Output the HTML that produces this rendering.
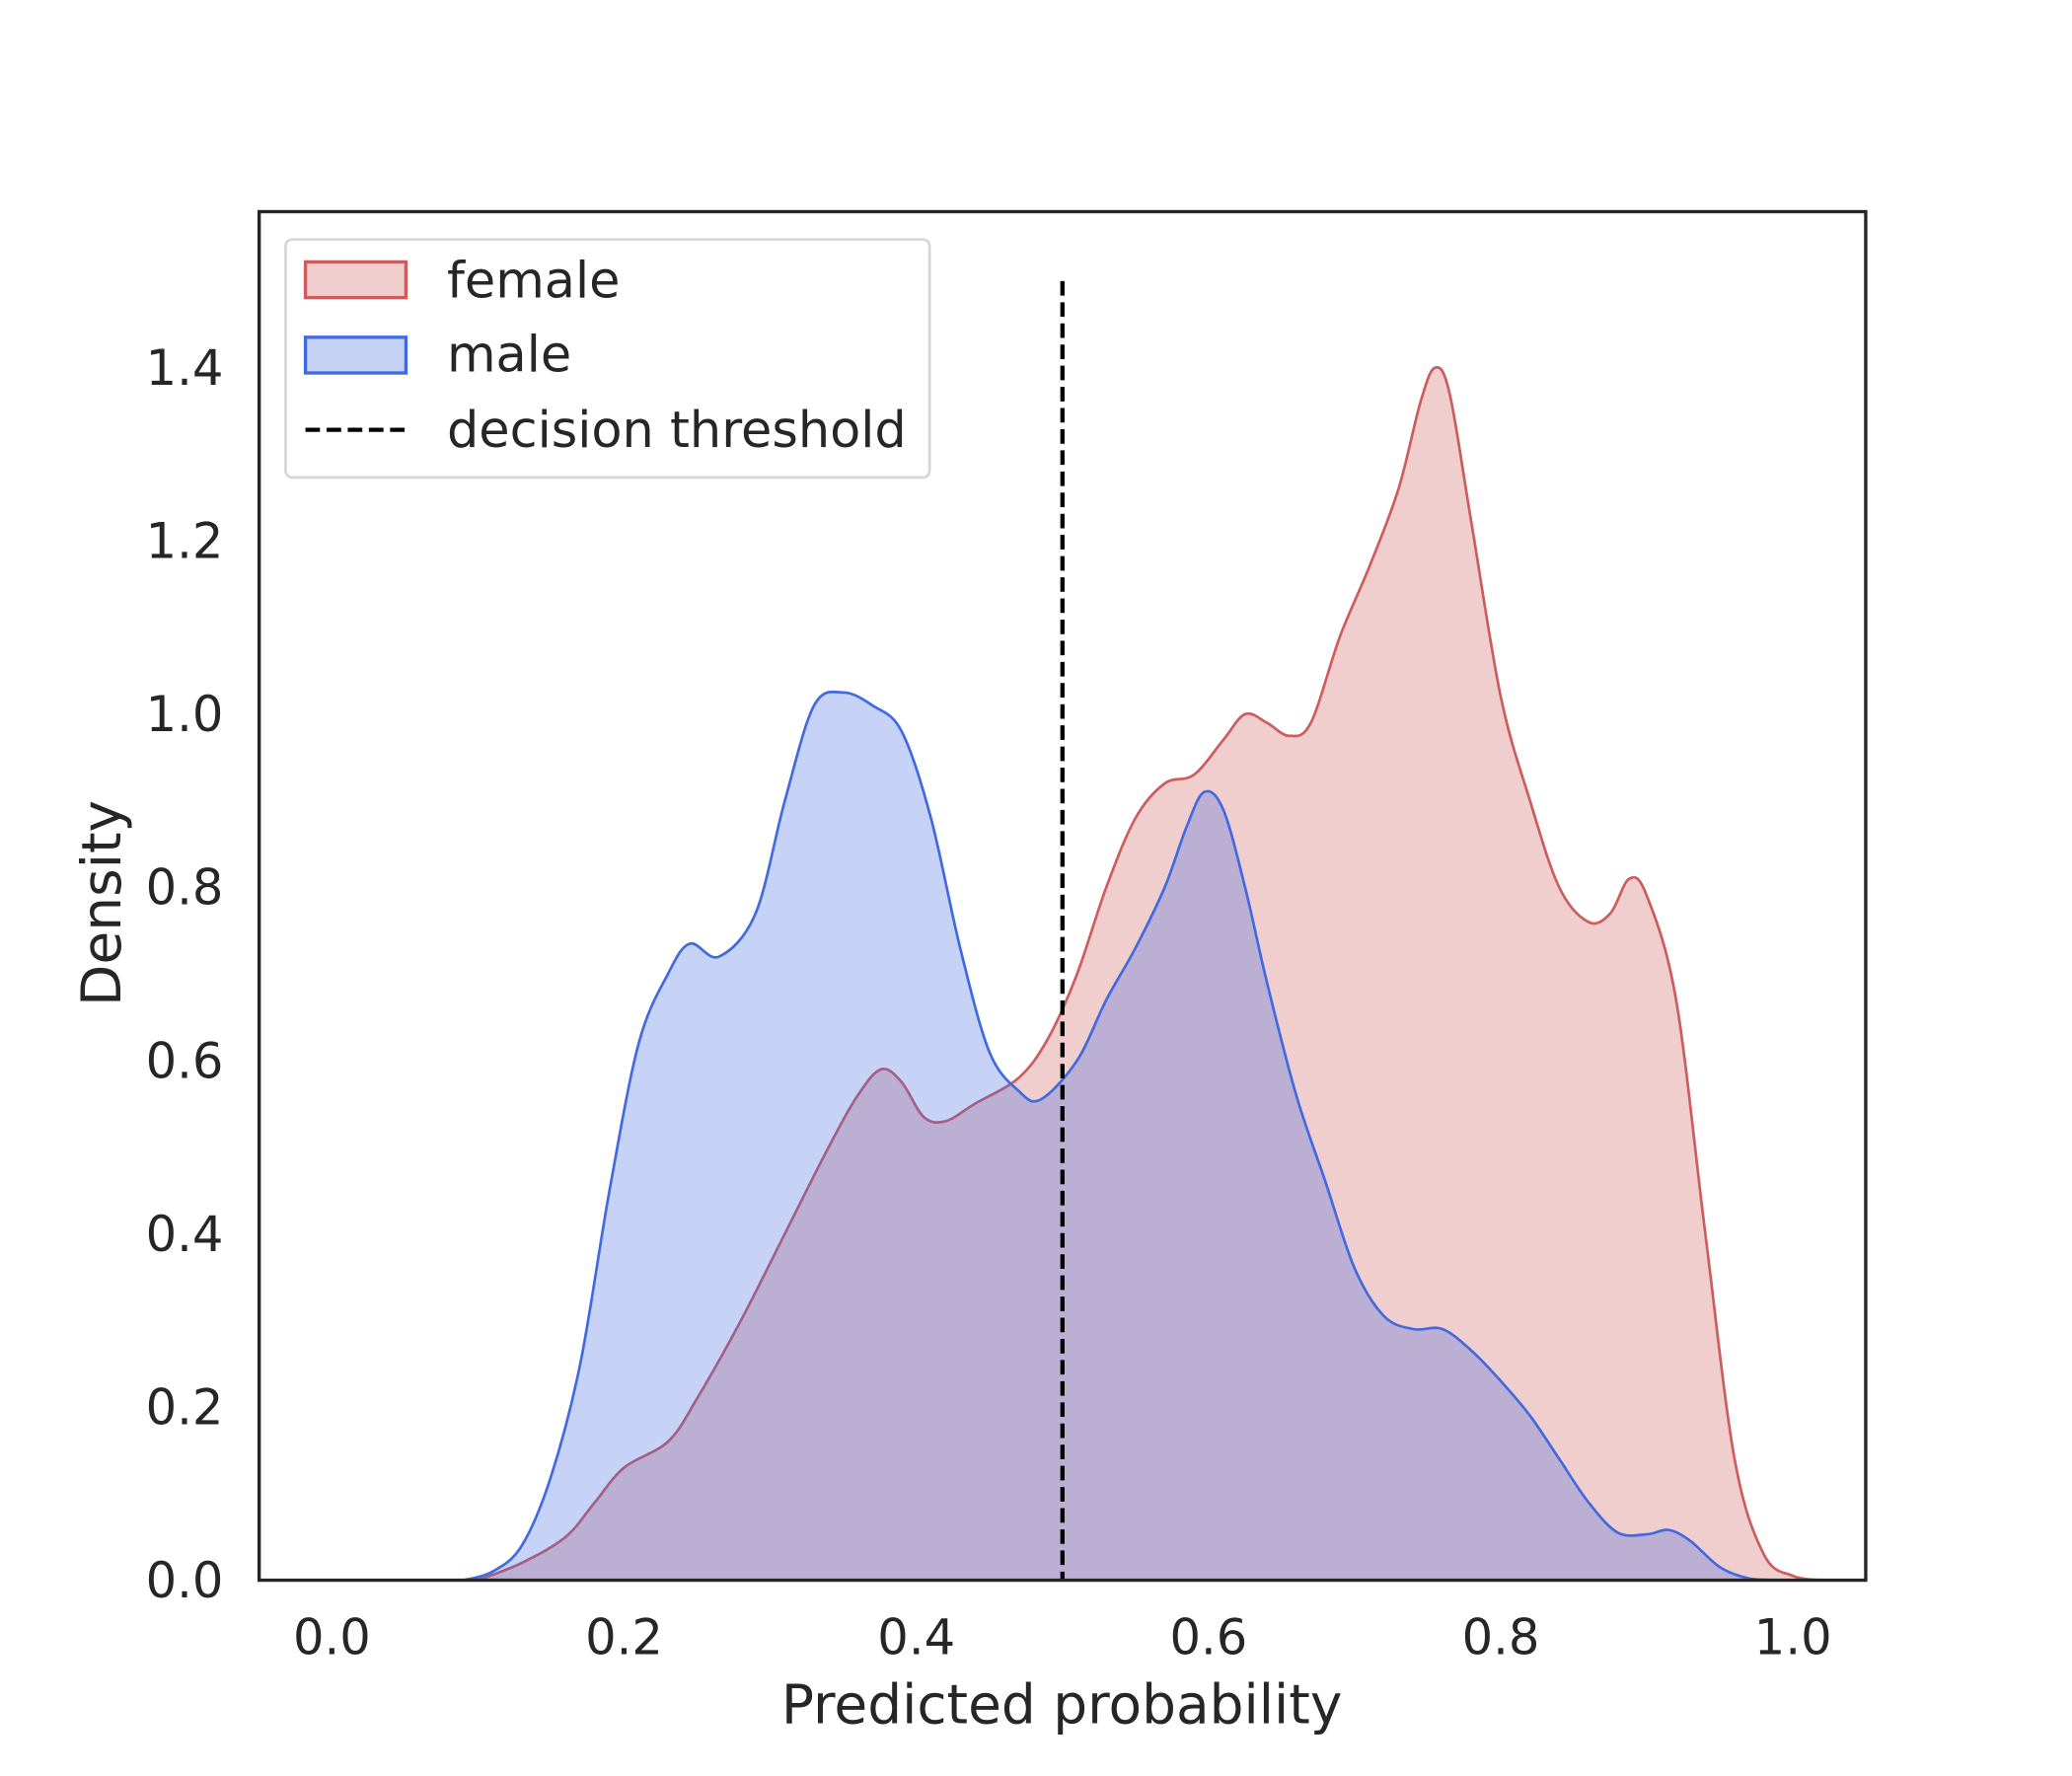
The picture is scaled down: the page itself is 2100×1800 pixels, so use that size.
<!DOCTYPE html>
<html><head><meta charset="utf-8"><style>
html,body{margin:0;padding:0;background:#fff}
svg{display:block}
text{font-family:"DejaVu Sans","Liberation Sans",sans-serif;fill:#262626}
</style></head><body>
<svg id="chart" width="2100" height="1800" viewBox="0 0 1567 1343" xmlns="http://www.w3.org/2000/svg">
<rect x="0" y="0" width="1567" height="1343" fill="#fff"/>
<g id="marks"></g>
<rect x="196" y="160" width="1215" height="1035" fill="none" stroke="#262626" stroke-width="2.5"/>
<g id="xticks"></g><g id="yticks"></g>
<text x="803" y="1303" font-size="41" text-anchor="middle">Predicted probability</text>
<text transform="translate(91,683) rotate(-90)" font-size="41" text-anchor="middle">Density</text>
<g>
<rect x="216" y="181" width="487" height="180" rx="5" fill="#fff" stroke="#d6d6d6" stroke-width="2"/>
<rect x="231" y="198" width="76" height="27" fill="rgb(240,206,206)" stroke="#cd5c5c" stroke-width="2.5"/>
<text x="338" y="225" font-size="38">female</text>
<rect x="231" y="255" width="76" height="27" fill="rgb(198,210,243)" stroke="#4169e1" stroke-width="2.5"/>
<text x="338" y="281" font-size="38">male</text>
<line x1="231" y1="325" x2="307" y2="325" stroke="#000" stroke-width="3.2" stroke-dasharray="11,5"/>
<text x="338" y="338" font-size="38">decision threshold</text>
</g>
</svg>
<script>
const maleX=[0.09,0.11,0.13,0.15,0.17,0.19,0.21,0.23,0.245,0.265,0.29,0.31,0.33,0.35,0.37,0.39,0.41,0.43,0.45,0.47,0.485,0.51,0.53,0.55,0.57,0.585,0.597,0.61,0.625,0.64,0.66,0.68,0.70,0.72,0.74,0.76,0.78,0.80,0.82,0.84,0.86,0.88,0.90,0.915,0.93,0.95,0.97,0.99];
const maleY=[0,0.01,0.04,0.12,0.25,0.45,0.62,0.70,0.735,0.72,0.77,0.90,1.01,1.025,1.01,0.98,0.88,0.73,0.61,0.565,0.555,0.60,0.67,0.73,0.80,0.87,0.91,0.89,0.80,0.69,0.56,0.46,0.36,0.305,0.29,0.29,0.265,0.23,0.19,0.14,0.09,0.055,0.053,0.058,0.045,0.015,0.002,0];
const femaleX=[0.10,0.13,0.16,0.18,0.20,0.23,0.25,0.28,0.31,0.34,0.36,0.376,0.39,0.405,0.42,0.44,0.47,0.49,0.51,0.53,0.55,0.57,0.59,0.61,0.625,0.64,0.655,0.67,0.69,0.71,0.73,0.745,0.755,0.765,0.78,0.80,0.82,0.84,0.86,0.875,0.888,0.90,0.92,0.94,0.96,0.98,1.00,1.02];
const femaleY=[0,0.02,0.05,0.09,0.13,0.16,0.21,0.30,0.40,0.50,0.56,0.59,0.575,0.535,0.53,0.55,0.58,0.625,0.70,0.80,0.88,0.92,0.93,0.97,1.0,0.99,0.975,0.99,1.09,1.17,1.26,1.36,1.40,1.37,1.22,1.02,0.90,0.80,0.76,0.77,0.81,0.79,0.67,0.40,0.14,0.03,0.005,0];
const xTicks=[0,0.2,0.4,0.6,0.8,1.0];
const yTicks=[0,0.2,0.4,0.6,0.8,1.0,1.2,1.4];
const threshold=0.5, thresholdTop=1.5;
const sx=v=>251+v*1105;
function syf(v){return 1195-v*(1195-278)/1.4;}
const NS="http://www.w3.org/2000/svg";
function path(xs,ys){let p=[];for(let i=0;i<xs.length;i++)p.push([sx(xs[i]),syf(ys[i])]);
 let d="M"+p[0][0]+","+p[0][1];
 for(let i=0;i<p.length-1;i++){const p0=p[i-1]||p[i],p1=p[i],p2=p[i+1],p3=p[i+2]||p2;
  const c1=[p1[0]+(p2[0]-p0[0])/6,p1[1]+(p2[1]-p0[1])/6],c2=[p2[0]-(p3[0]-p1[0])/6,p2[1]-(p3[1]-p1[1])/6];
  d+=` C${c1[0]},${Math.min(c1[1],1195)} ${c2[0]},${Math.min(c2[1],1195)} ${p2[0]},${p2[1]}`;}
 return d;}
const g=document.getElementById('marks');
function area(xs,ys,fill,stroke,name){const d=path(xs,ys);
 const a=document.createElementNS(NS,'path');a.setAttribute('d',d+` L${sx(xs[xs.length-1])},1195 L${sx(xs[0])},1195 Z`);a.setAttribute('fill',fill);a.setAttribute('fill-opacity','0.3');
 
 
 g.appendChild(a);
 const l=document.createElementNS(NS,'path');l.setAttribute('d',d);l.setAttribute('fill','none');l.setAttribute('stroke',stroke);l.setAttribute('stroke-width','2');
 
 
 g.appendChild(l);}
area(femaleX,femaleY,'#cd5c5c','#cd5c5c','female-density');
area(maleX,maleY,'#4169e1','#4169e1','male-density');
const th=document.createElementNS(NS,'line');
th.setAttribute('x1',sx(threshold));th.setAttribute('x2',sx(threshold));th.setAttribute('y1',syf(thresholdTop));th.setAttribute('y2',syf(0));
th.setAttribute('stroke','#000');th.setAttribute('stroke-width','3.2');th.setAttribute('stroke-dasharray','11,5');


g.appendChild(th);
const xt=document.getElementById('xticks');
xTicks.forEach(v=>{const t=document.createElementNS(NS,'text');t.setAttribute('x',sx(v));t.setAttribute('y',1251);t.setAttribute('font-size','37');t.setAttribute('text-anchor','middle');t.textContent=v.toFixed(1);
 
 
 xt.appendChild(t);});
const yt=document.getElementById('yticks');
yTicks.forEach(v=>{const t=document.createElementNS(NS,'text');t.setAttribute('x',169);t.setAttribute('y',syf(v)+13);t.setAttribute('font-size','37');t.setAttribute('text-anchor','end');t.textContent=v.toFixed(1);
 
 
 yt.appendChild(t);});
</script>
</body></html>
